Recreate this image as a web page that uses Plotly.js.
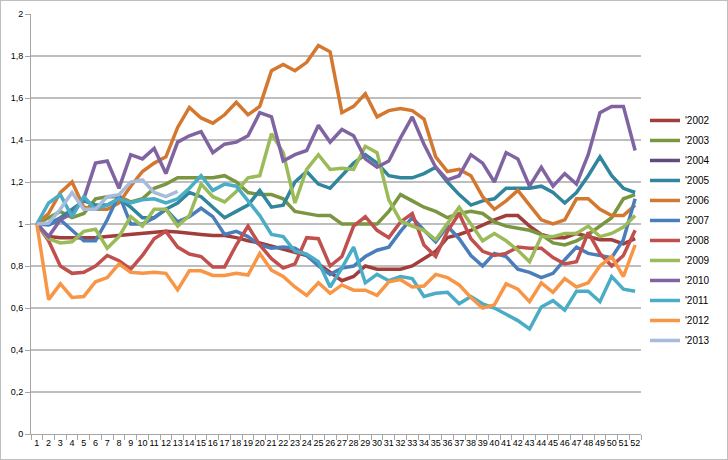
<!DOCTYPE html>
<html><head><meta charset="utf-8">
<script src="https://cdn.plot.ly/plotly-3.0.1.min.js"></script>
<style>
html,body{margin:0;padding:0;background:#fff;}
#frame{position:absolute;left:0;top:0;width:726px;height:458px;border:1px solid #BFBFBF;}
#chart{width:726px;height:458px;}
</style>
</head><body><div id="frame"><div id="chart"></div></div>
<script>
const weeks = ['1','2','3','4','5','6','7','8','9','10','11','12','13','14','15','16','17','18','19','20','21','22','23','24','25','26','27','28','29','30','31','32','33','34','35','36','37','38','39','40','41','42','43','44','45','46','47','48','49','50','51','52'];
const seriesNames = ["'2002","'2003","'2004","'2005","'2006","'2007","'2008","'2009","'2010","'2011","'2012","'2013"];
const y2002 = [1,0.94,0.935,0.935,0.935,0.935,0.94,0.945,0.95,0.955,0.96,0.965,0.962,0.958,0.95,0.945,0.945,0.935,0.92,0.91,0.895,0.88,0.865,0.85,0.81,0.77,0.73,0.75,0.80,0.785,0.785,0.785,0.80,0.835,0.87,0.935,0.95,0.97,0.995,1.02,1.04,1.04,0.99,0.95,0.935,0.935,0.955,0.94,0.925,0.925,0.905,0.93];
const y2003 = [1,1.03,1.06,1.03,1.05,1.12,1.13,1.13,1.105,1.12,1.17,1.19,1.22,1.22,1.22,1.22,1.23,1.2,1.15,1.14,1.14,1.12,1.06,1.05,1.04,1.04,1.0,1.0,1.0,1.0,1.06,1.14,1.11,1.08,1.06,1.03,1.05,1.06,1.05,1.01,0.99,0.98,0.97,0.95,0.91,0.9,0.92,0.95,0.99,1.03,1.12,1.14];
const y2004 = [null];
const y2005 = [1,1.0,1.03,1.07,1.11,1.09,1.09,1.12,1.08,1.03,1.03,1.07,1.1,1.15,1.13,1.08,1.03,1.06,1.09,1.16,1.08,1.09,1.2,1.25,1.19,1.17,1.23,1.29,1.33,1.29,1.23,1.22,1.22,1.24,1.27,1.2,1.14,1.09,1.11,1.12,1.17,1.17,1.17,1.18,1.15,1.1,1.15,1.23,1.32,1.23,1.17,1.15];
const y2006 = [1,1.05,1.15,1.2,1.08,1.07,1.07,1.1,1.18,1.25,1.29,1.32,1.46,1.555,1.505,1.48,1.52,1.58,1.52,1.56,1.73,1.76,1.73,1.77,1.85,1.82,1.53,1.56,1.62,1.51,1.54,1.55,1.54,1.5,1.32,1.25,1.26,1.23,1.13,1.07,1.11,1.16,1.09,1.02,1.0,1.02,1.12,1.12,1.07,1.04,1.04,1.09];
const y2007 = [1,0.995,1.02,0.97,0.92,0.92,1.02,1.14,1.0,1.0,1.03,1.07,1.01,1.035,1.075,1.035,0.95,0.965,0.94,0.9,0.885,0.89,0.885,0.85,0.8,0.76,0.79,0.8,0.845,0.875,0.89,0.965,1.03,0.97,0.915,0.99,0.93,0.85,0.8,0.86,0.845,0.785,0.77,0.745,0.765,0.83,0.89,0.86,0.85,0.84,0.925,1.12];
const y2008 = [1,0.92,0.8,0.765,0.77,0.8,0.85,0.825,0.785,0.85,0.93,0.965,0.89,0.857,0.845,0.795,0.795,0.9,0.99,0.9,0.835,0.79,0.81,0.935,0.93,0.8,0.845,0.99,1.035,0.97,0.935,1.01,1.05,0.9,0.845,0.965,1.05,0.93,0.87,0.85,0.86,0.89,0.885,0.885,0.84,0.81,0.82,0.96,0.86,0.8,0.85,0.97];
const y2009 = [1,0.93,0.91,0.915,0.965,0.975,0.885,0.94,1.035,0.99,1.07,1.07,0.99,1.04,1.19,1.13,1.105,1.155,1.22,1.23,1.43,1.34,1.1,1.26,1.33,1.26,1.265,1.26,1.37,1.34,1.115,1.015,0.99,0.97,0.925,1.0,1.08,1.0,0.92,0.955,0.92,0.875,0.82,0.94,0.94,0.955,0.955,0.99,0.94,0.955,0.985,1.04];
const y2010 = [1,0.94,1.02,1.05,1.12,1.29,1.3,1.17,1.33,1.31,1.36,1.24,1.39,1.42,1.44,1.34,1.38,1.39,1.42,1.53,1.51,1.3,1.33,1.35,1.47,1.39,1.45,1.42,1.31,1.27,1.3,1.41,1.51,1.38,1.27,1.21,1.23,1.33,1.29,1.2,1.34,1.31,1.18,1.27,1.18,1.24,1.19,1.33,1.53,1.56,1.56,1.35];
const y2011 = [1,1.1,1.14,1.035,1.13,1.07,1.09,1.12,1.1,1.115,1.12,1.1,1.12,1.17,1.23,1.16,1.19,1.18,1.11,1.04,0.95,0.94,0.87,0.857,0.82,0.7,0.79,0.89,0.72,0.76,0.73,0.75,0.74,0.655,0.67,0.675,0.62,0.655,0.62,0.6,0.57,0.54,0.5,0.605,0.635,0.59,0.68,0.68,0.63,0.75,0.69,0.68];
const y2012 = [1,0.64,0.715,0.65,0.655,0.725,0.745,0.81,0.77,0.765,0.77,0.765,0.686,0.777,0.777,0.755,0.755,0.765,0.757,0.86,0.78,0.75,0.7,0.66,0.72,0.67,0.71,0.685,0.685,0.66,0.725,0.735,0.7,0.705,0.76,0.745,0.71,0.65,0.6,0.615,0.715,0.69,0.63,0.72,0.675,0.74,0.7,0.72,0.8,0.845,0.75,0.9];
const y2013 = [1,1.005,1.07,1.15,1.07,1.07,1.13,1.14,1.2,1.21,1.15,1.13,1.155];
const yTickVals = [0,0.2,0.4,0.6,0.8,1,1.2,1.4,1.6,1.8,2];

const seriesValues = [y2002,y2003,y2004,y2005,y2006,y2007,y2008,y2009,y2010,y2011,y2012,y2013];
const colors = ['#A13D3A','#7A9640','#604A7B','#31859C','#D4782F','#4A7EBB','#C0504D','#9BBB59','#8064A2','#4BACC6','#F79646','#A7BCDA'];

const traces = seriesNames.map((name, i) => ({
  type: 'scatter',
  mode: 'lines',
  name: name,
  legendgroup: 'g' + i,
  x: weeks.slice(0, seriesValues[i].length),
  y: seriesValues[i],
  line: {color: colors[i], width: 3.5},
  showlegend: true
}));

const layout = {
  width: 726, height: 458,
  margin: {l: 30, r: 76, t: 13, b: 25},
  paper_bgcolor: '#fff', plot_bgcolor: '#fff',
  separators: ',.',
  font: {family: 'Liberation Sans, Arial, sans-serif', size: 9, color: '#000'},
  showlegend: true,
  legend: {x: 1.0065, xanchor: 'left', y: 0.781, yanchor: 'top', tracegroupgap: 1,
           font: {size: 10, color: '#000'}, bgcolor: 'rgba(0,0,0,0)', borderwidth: 0},
  xaxis: {type: 'category', categoryorder: 'array', categoryarray: weeks,
          range: [-0.5, 51.5], showgrid: false, showline: true, linecolor: '#A6A6A6', linewidth: 1,
          ticks: 'outside', tickson: 'boundaries', ticklen: 5, tickcolor: '#A6A6A6',
          tickangle: 0, tickfont: {size: 9}, fixedrange: true},
  yaxis: {range: [0, 2], tickvals: yTickVals, showgrid: true, gridcolor: '#BEBEBE', gridwidth: 1.5,
          zeroline: false, showline: true, linecolor: '#A6A6A6', linewidth: 1,
          ticks: 'outside', ticklen: 5, tickcolor: '#A6A6A6', tickfont: {size: 9}, fixedrange: true}
};

Plotly.newPlot('chart', traces, layout, {displayModeBar: false, staticPlot: true});
</script>
</body></html>
